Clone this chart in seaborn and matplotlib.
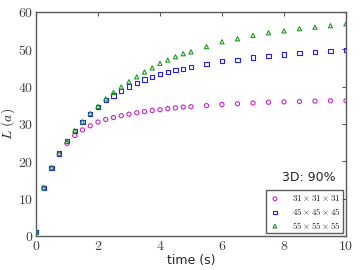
import matplotlib
matplotlib.use("Agg")
import matplotlib.pyplot as plt
import seaborn as sns
import pandas as pd
from matplotlib.ticker import FuncFormatter, MultipleLocator

time = [0, 0.25, 0.5, 0.75, 1.0, 1.25, 1.5, 1.75, 2.0, 2.25, 2.5, 2.75, 3.0,
        3.25, 3.5, 3.75, 4.0, 4.25, 4.5, 4.75, 5.0, 5.5, 6.0, 6.5, 7.0, 7.5,
        8.0, 8.5, 9.0, 9.5, 10.0]
L31 = [1.0, 12.9, 18.2, 21.9, 24.8, 26.9, 28.4, 29.5, 30.5, 31.2, 31.7, 32.2,
       32.6, 33.0, 33.3, 33.6, 33.8, 34.1, 34.3, 34.5, 34.6, 34.9, 35.2, 35.4,
       35.6, 35.8, 35.9, 36.0, 36.1, 36.2, 36.2]
L45 = [1.0, 12.9, 18.3, 22.1, 25.4, 28.1, 30.5, 32.7, 34.6, 36.4, 37.6, 38.9,
       40.0, 41.0, 41.9, 42.6, 43.3, 43.9, 44.4, 44.8, 45.2, 46.1, 46.8, 47.2,
       47.8, 48.2, 48.6, 48.9, 49.3, 49.6, 49.9]
L55 = [1.0, 12.9, 18.3, 22.1, 25.4, 28.2, 30.6, 32.8, 34.7, 36.7, 38.4, 39.9,
       41.3, 42.6, 43.9, 45.0, 46.2, 47.1, 48.0, 48.8, 49.3, 50.7, 52.0, 52.8,
       53.7, 54.4, 54.9, 55.5, 55.9, 56.3, 56.8]
labels = [r"$31\times31\times31$", r"$45\times45\times45$", r"$55\times55\times55$"]
colors = ["#cc22cc", "#1f1fff", "#1e9a1e"]
markers = ["o", "s", "^"]

sns.set_style("white")
plt.rcParams["font.family"] = ["DejaVu Sans"]
plt.rcParams["mathtext.fontset"] = "cm"

df = pd.concat([
    pd.DataFrame({"time": time, "L": vals, "grid": lab})
    for vals, lab in zip([L31, L45, L55], labels)
])

fig = plt.figure(figsize=(3.6, 2.7), dpi=100)
ax = fig.add_axes([0.1, 0.126, 0.861, 0.83])

for lab, c, m in zip(labels, colors, markers):
    sub = df[df["grid"] == lab]
    sns.scatterplot(data=sub, x="time", y="L", ax=ax, marker=m, s=9,
                    facecolors="none", edgecolor=c, linewidth=0.8,
                    label=lab, zorder=3)

ax.set_xlim(0, 10)
ax.set_ylim(0, 60)
ax.xaxis.set_major_locator(MultipleLocator(2))
ax.yaxis.set_major_locator(MultipleLocator(10))
fmt = FuncFormatter(lambda v, p: r"$%d$" % round(v))
ax.xaxis.set_major_formatter(fmt)
ax.yaxis.set_major_formatter(fmt)
ax.tick_params(direction="in", length=3, width=0.8, color="0.35",
               top=True, right=True, labelsize=10, labelcolor="0.25", pad=2)
for sp in ax.spines.values():
    sp.set_color("0.35")
    sp.set_linewidth(1.0)

ax.set_xlabel("time (s)", fontsize=9, labelpad=1)
ax.set_ylabel(r"$L\ (a)$", fontsize=10, labelpad=1)

ax.text(0.88, 0.26, "3D: 90%", transform=ax.transAxes, fontsize=9,
        ha="center", va="center")

leg = ax.legend(loc="lower right", fontsize=6.5, frameon=True, fancybox=False,
                edgecolor="0.2", handletextpad=1.2, borderpad=0.3,
                labelspacing=0.3, handlelength=1.3, borderaxespad=0.3,
                markerscale=0.9)
leg.get_frame().set_linewidth(1.0)

fig.savefig("out.png", dpi=100)
